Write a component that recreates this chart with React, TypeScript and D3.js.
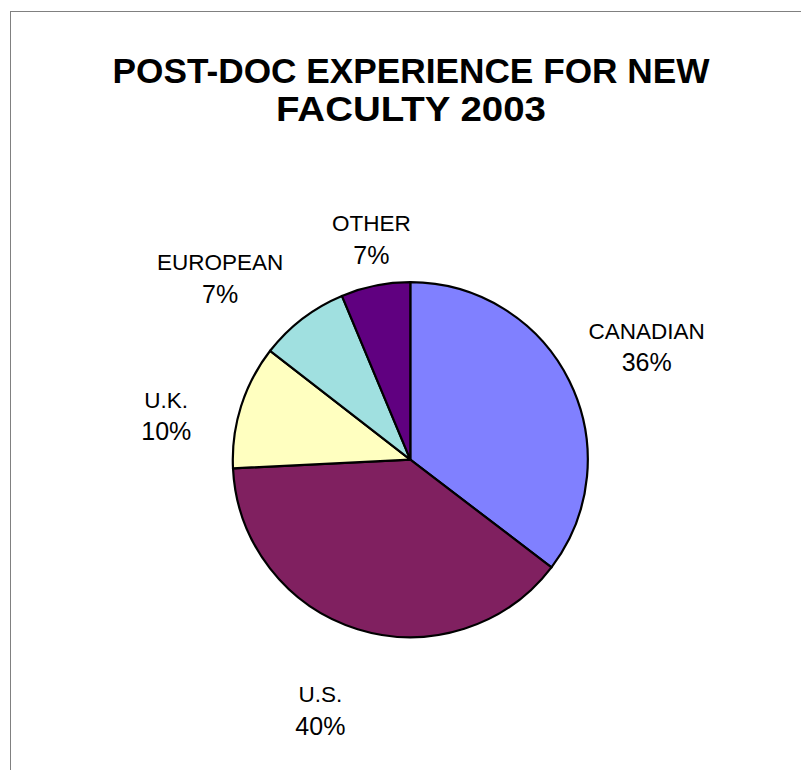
import React from "react";
import * as d3 from "d3";

const categories = ["CANADIAN", "U.S.", "U.K.", "EUROPEAN", "OTHER"];
const values = [35.4, 38.9, 11.3, 8.2, 6.3];
const shownLabels = ["36%", "40%", "10%", "7%", "7%"];
const colors = ["#8080FF", "#802060", "#FFFFC0", "#A0E0E0", "#600080"];
const titleLines = ["POST-DOC EXPERIENCE FOR NEW", "FACULTY 2003"];

// label layout: distance from centre and angular nudge (degrees)
const labelDist = [262, 266, 248, 263, 224];
const labelNudge = [0.8, 2.5, -7.3, -8.9, 1.3];
const titleWidths = [597, 270];

export default function App() {
  const W = 801, H = 770;
  const cx = 410.3, cy = 459.7, R = 177.5;
  const pie = d3.pie<number>().sort(null).value((d) => d);
  const arcs = pie(values);
  const arc = d3.arc<d3.PieArcDatum<number>>().innerRadius(0).outerRadius(R);
  const font = "'Liberation Sans', Arial, sans-serif";

  return (
    <svg
      width={W}
      height={H}
      style={{ position: "absolute", left: 0, top: 0, background: "#fff" }}
    >
      <rect x={10.5} y={11.5} width={1000} height={1000} fill="#fff" stroke="#808080" strokeWidth={1} />
      {titleLines.map((t, i) => (
        <text
          key={t}
          x={411}
          y={83 + i * 38}
          textAnchor="middle"
          fontFamily={font}
          fontWeight="bold"
          fontSize={35}
          textLength={titleWidths[i]}
          lengthAdjust="spacingAndGlyphs"
          fill="#000"
        >
          {t}
        </text>
      ))}
      <g transform={`translate(${cx},${cy})`}>
        {arcs.map((a, i) => (
          <path
            key={categories[i]}
            d={arc(a) || ""}
            fill={colors[i]}
            stroke="#000"
            strokeWidth={2.2}
            strokeLinejoin="round"
          />
        ))}
        {arcs.map((a, i) => {
          const mid = (a.startAngle + a.endAngle) / 2 + (labelNudge[i] * Math.PI) / 180;
          const lx = Math.sin(mid) * labelDist[i];
          const ly = -Math.cos(mid) * labelDist[i];
          return (
            <g key={"l" + i} fontFamily={font} fill="#000" textAnchor="middle">
              <text x={lx} y={ly - 8} fontSize={22.5}>{categories[i]}</text>
              <text x={lx} y={ly + 24.5} fontSize={25}>{shownLabels[i]}</text>
            </g>
          );
        })}
      </g>
    </svg>
  );
}
